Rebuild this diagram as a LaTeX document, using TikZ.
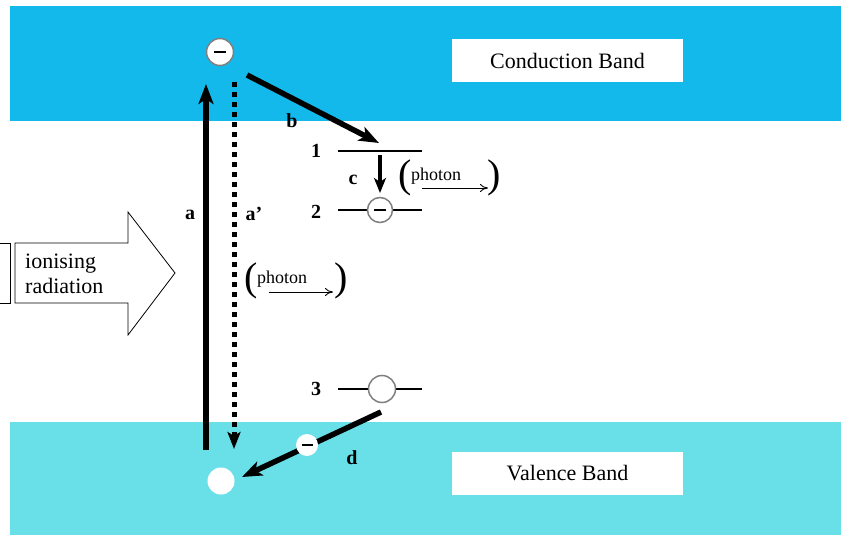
\documentclass[tikz,border=0pt]{standalone}
\usepackage{fontspec}
\setmainfont{Liberation Serif}
\usetikzlibrary{arrows.meta}
\definecolor{cband}{HTML}{13B9EA}
\definecolor{vband}{HTML}{69E0E8}
\definecolor{ringgray}{HTML}{7F7F7F}
\tikzset{
  band/.style={fill=#1, draw=none},
  bandlabel/.style={fill=white, draw=none, minimum width=231pt, minimum height=43pt, font=\fontsize{22}{24}\selectfont, inner sep=0pt},
  lbl/.style={font=\fontsize{20}{22}\selectfont\bfseries, inner sep=0pt},
  bigarrow/.style={line width=5.5pt, -{Stealth[length=20pt,width=15pt,inset=5pt]}},
  dotarrow/.style={line width=5pt, dash pattern=on 5pt off 5pt, -{Stealth[length=17pt,width=13pt,inset=4pt]}},
  level/.style={line width=1.3pt},
  electron/.style={circle, fill=white, draw=ringgray, line width=1.5pt, minimum size=#1, inner sep=0pt},
  hole/.style={circle, fill=white, draw=none, minimum size=#1, inner sep=0pt},
  minus/.style={line width=2.4pt},
  photonarrow/.style={line width=0.9pt, -{To[length=8pt,width=8pt]}},
}
\newcommand{\emark}[2]{\draw[minus] ([xshift=-#2]#1.center) -- ([xshift=#2]#1.center);}
\begin{document}
\begin{tikzpicture}[x=1pt,y=-1pt]
\useasboundingbox (0,0) rectangle (841,535);
\fill[white] (0,0) rectangle (841,535);

% energy bands
\fill[band=cband] (10,6) rectangle (841,121);
\fill[band=vband] (10,422) rectangle (841,535);
\node[bandlabel] (cbl) at (567.5,61) {Conduction Band};
\node[bandlabel] (vbl) at (567.5,473) {Valence Band};

% ionising radiation block arrow
\draw[line width=0.8pt, fill=white] (-5,243) -- (10,243) -- (10,303) -- (-5,303);
\draw[line width=0.8pt, fill=white] (15,243) -- (128,243) -- (128,212) -- (175,273)
  -- (128,335) -- (128,303) -- (15,303) -- cycle;
\node[font=\fontsize{22}{25}\selectfont, align=left, anchor=west, inner sep=0pt] (ion) at (25,274) {ionising\\radiation};

% electron in the conduction band and hole in the valence band
\node[electron=27pt] (e0) at (220,52) {};
\emark{e0}{6pt}
\node[hole=27pt] (h0) at (221,481) {};

% trap levels
\coordinate (l1a) at (338,151); \coordinate (l1b) at (422,151);
\coordinate (l2a) at (338,210); \coordinate (l2b) at (422,210);
\coordinate (l3a) at (338,389); \coordinate (l3b) at (422,389);
\draw[level] (l1a) -- (l1b);
\draw[level] (l2a) -- (l2b);
\draw[level] (l3a) -- (l3b);
\node[electron=25pt] (e2) at (380,210) {};
\emark{e2}{6pt}
\node[electron=27pt] (t3) at (382,389) {};
\node[lbl] (n1) at (316,151) {1};
\node[lbl] (n2) at (316,212) {2};
\node[lbl] (n3) at (316,389) {3};

% transitions
\coordinate (aS) at (206,450); \coordinate (aE) at (206,84);
\draw[bigarrow] (aS) -- (aE);
\coordinate (pS) at (234,82); \coordinate (pE) at (234,449);
\draw[dotarrow] (pS) -- (pE);
\coordinate (bS) at (247,75); \coordinate (bE) at (379,143);
\draw[bigarrow] (bS) -- (bE);
\coordinate (cS) at (380,155); \coordinate (cE) at (380,193);
\draw[line width=4pt, -{Stealth[length=15pt,width=12pt,inset=4pt]}] (cS) -- (cE);
\coordinate (dS) at (381,412); \coordinate (dE) at (242,477);
\draw[bigarrow] (dS) -- (dE);
\node[hole=22pt] (e3) at (307,445) {};
\emark{e3}{5.5pt}

% transition labels
\node[lbl] (la) at (190,215) {a};
\node[lbl] (lap) at (254,214) {a'};
\node[lbl] (lb) at (292,121) {b};
\node[lbl] (lc) at (353,180) {c};
\node[lbl] (ld) at (352,458) {d};

% emitted photons
\node[font=\fontsize{40}{40}\selectfont, inner sep=0pt] (p1l) at (405,178) {(};
\node[font=\fontsize{40}{40}\selectfont, inner sep=0pt] (p1r) at (494,178) {)};
\node[font=\fontsize{18}{18}\selectfont, inner sep=0pt, anchor=base west] (p1t) at (411,180) {photon};
\coordinate (p1a) at (422,188); \coordinate (p1b) at (488,188);
\draw[photonarrow] (p1a) -- (p1b);

\node[font=\fontsize{40}{40}\selectfont, inner sep=0pt] (p2l) at (251,281) {(};
\node[font=\fontsize{40}{40}\selectfont, inner sep=0pt] (p2r) at (341,281) {)};
\node[font=\fontsize{18}{18}\selectfont, inner sep=0pt, anchor=base west] (p2t) at (257,283) {photon};
\coordinate (p2a) at (269,292); \coordinate (p2b) at (333,292);
\draw[photonarrow] (p2a) -- (p2b);
\end{tikzpicture}
\end{document}
